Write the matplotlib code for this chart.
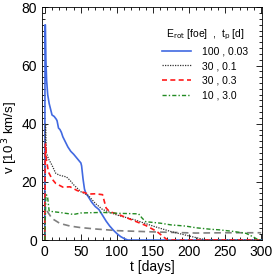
import numpy as np
import matplotlib.pyplot as plt
from matplotlib.ticker import MultipleLocator

plt.rcParams['font.family'] = ['Liberation Sans', 'DejaVu Sans']

# model curves: v [10^3 km/s] vs t [days]
t_100 = [0, 0.3, 0.8, 1.5, 2.5, 4, 6, 8, 10, 13, 16, 17, 19, 21, 23, 25, 28, 32, 36, 40, 45, 50, 51, 53, 55, 57, 60, 65, 70, 75, 80, 85, 90, 95, 100, 105, 110, 115, 300]
v_100 = [0, 74, 74, 62, 55, 50, 47, 45, 43, 42.5, 41.5, 41, 38.5, 38, 37, 35.5, 34, 32, 30.5, 29.5, 28, 26.5, 25.5, 21, 17.5, 16, 15, 13, 11.5, 10.5, 8.5, 6.5, 4.8, 3.4, 2.2, 1.2, 0.5, 0, 0]

t_30a = [0, 0.8, 1.2, 2, 5, 10, 15, 20, 25, 30, 35, 40, 50, 60, 70, 80, 100, 125, 150, 175, 200, 215, 225, 300]
v_30a = [0, 40, 40, 30, 28, 25.7, 23, 22.3, 22, 21.7, 20.5, 19, 16.6, 15.4, 12.6, 10.5, 8.6, 6.9, 4.8, 2.9, 1.4, 0.5, 0, 0]

t_30b = [0, 0.8, 1.3, 2, 5, 10, 15, 25, 35, 45, 55, 60, 70, 80, 85, 90, 100, 120, 140, 155, 165, 170, 300]
v_30b = [0, 33, 33, 28, 23.4, 21, 19.5, 18.2, 18.3, 17, 16.3, 15.8, 15.9, 15.6, 11, 9.7, 9, 7, 5, 3, 1, 0, 0]

t_10 = [0, 1.5, 2.5, 4, 6, 10, 20, 40, 50, 80, 100, 130, 135, 140, 160, 175, 195, 210, 230, 242, 260, 279, 288, 295, 300]
v_10 = [0, 15.5, 15.5, 14.5, 10, 9.8, 9.5, 8.8, 9.3, 9.5, 9.2, 9, 7.5, 6.3, 5.8, 5.2, 4.8, 4.2, 3.7, 3.5, 3, 2.3, 1.2, 0.2, 0]

t_ref = [3, 6, 10, 21, 35, 49, 70, 102, 150, 209, 250, 300]
v_ref = [10, 8.9, 7.4, 5.7, 4.8, 4.3, 3.8, 3.2, 2.8, 2.4, 2.5, 2.5]

labels = ['100 , 0.03', '30 , 0.1', '30 , 0.3', '10 , 3.0']

fig = plt.figure(figsize=(2.74, 2.74), dpi=100)
ax = fig.add_axes([0.153, 0.124, 0.803, 0.849])

ax.plot(t_ref, v_ref, color='#808080', ls=(0, (4, 2.5)), lw=1.2)
ax.plot(t_100, v_100, color='#4169E1', ls='-', lw=1.2, label=labels[0])
ax.plot(t_30a, v_30a, color='#333333', ls=(0, (1, 1)), lw=0.9, label=labels[1])
ax.plot(t_30b, v_30b, color='#ff1a1a', ls=(0, (3, 2)), lw=1.2, label=labels[2])
ax.plot(t_10, v_10, color='#228B22', ls=(0, (3, 1.5, 1, 1.5)), lw=1.0, label=labels[3])

ax.set_xlim(-4, 301)
ax.set_ylim(0, 80)
ax.xaxis.set_major_locator(MultipleLocator(50))
ax.xaxis.set_minor_locator(MultipleLocator(10))
ax.yaxis.set_major_locator(MultipleLocator(20))
ax.yaxis.set_minor_locator(MultipleLocator(2))
ax.tick_params(which='both', direction='in', top=True, right=True, labelsize=10, width=0.6)
ax.tick_params(which='major', length=4)
ax.tick_params(which='minor', length=2)
for s in ax.spines.values():
    s.set_linewidth(0.6)

ax.set_xlabel('t [days]', fontsize=10, labelpad=1)
ax.set_ylabel('v [10$^{\\,3}$ km/s]', fontsize=9.5)
ax.yaxis.set_label_coords(-0.1, 0.44)

leg = ax.legend(loc='upper right', bbox_to_anchor=(0.955, 0.93), borderaxespad=0,
                frameon=False, fontsize=7.5, handlelength=2.8,
                handletextpad=1.0, labelspacing=0.45,
                title='E$_{\\rm rot}$ [foe]  ,  t$_{\\rm p}$ [d]', title_fontsize=7.5)
leg._legend_box.sep = 3

fig.savefig('out.png', dpi=100)
